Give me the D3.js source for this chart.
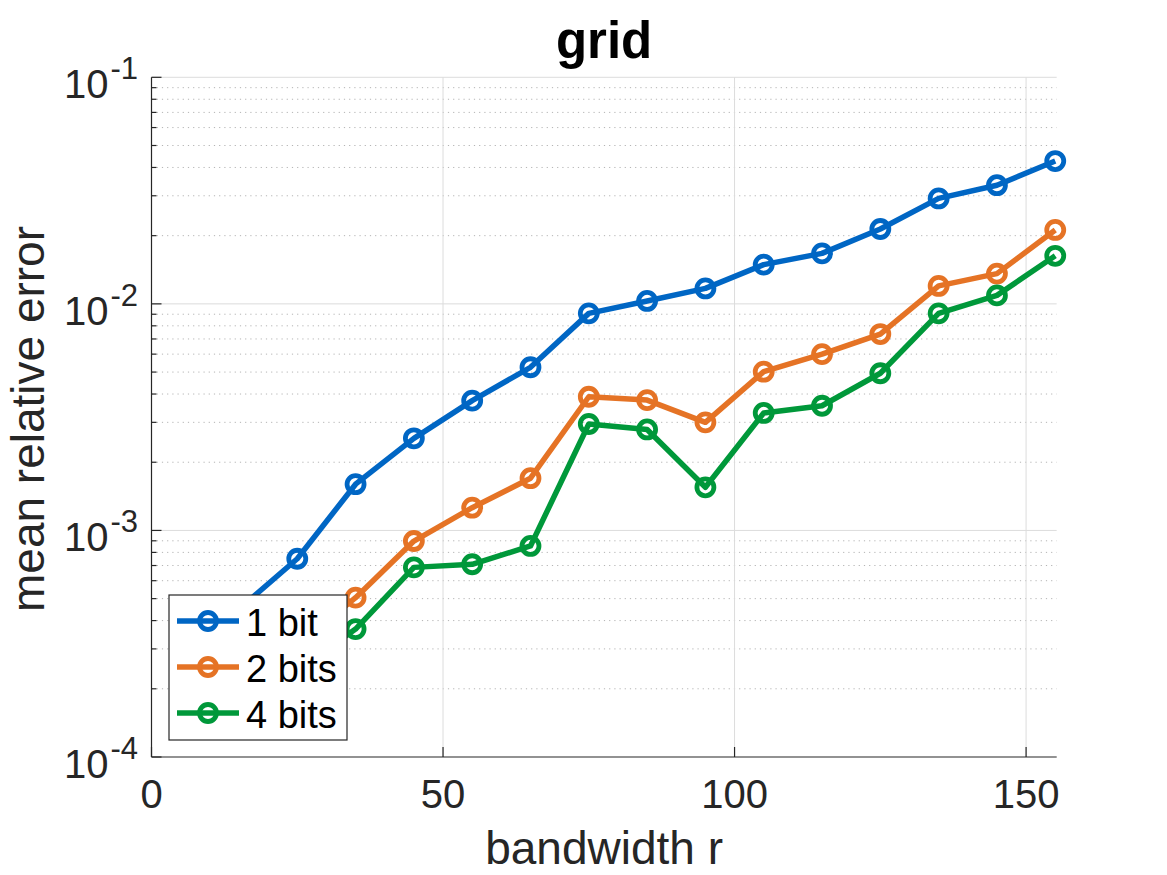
<!DOCTYPE html>
<html>
<head>
<meta charset="utf-8">
<script src="https://cdn.jsdelivr.net/npm/d3@7"></script>
<style>
  html, body { margin: 0; padding: 0; background: #fff; }
  svg { display: block; font-family: "Liberation Sans", Arial, Helvetica, sans-serif; }
</style>
</head>
<body>
<svg id="chart" width="1167" height="875"></svg>
<script>
// ---- data ----
const bandwidth = [15, 25, 35, 45, 55, 65, 75, 85, 95, 105, 115, 125, 135, 145, 155];
const err1bit  = [4.5e-4, 7.5e-4, 1.6e-3, 2.55e-3, 3.74e-3, 5.25e-3, 9.08e-3, 1.03e-2, 1.17e-2, 1.49e-2, 1.67e-2, 2.14e-2, 2.92e-2, 3.34e-2, 4.27e-2];
const err2bits = [2.0e-4, 3.1e-4, 5.05e-4, 8.98e-4, 1.26e-3, 1.70e-3, 3.89e-3, 3.76e-3, 3.0e-3, 5.02e-3, 6.0e-3, 7.36e-3, 1.20e-2, 1.36e-2, 2.12e-2];
const err4bits = [1.7e-4, 2.4e-4, 3.67e-4, 6.87e-4, 7.09e-4, 8.54e-4, 2.95e-3, 2.79e-3, 1.55e-3, 3.3e-3, 3.55e-3, 4.94e-3, 9.08e-3, 1.09e-2, 1.63e-2];
const seriesNames = ["1 bit", "2 bits", "4 bits"];
const xTicks = [0, 50, 100, 150];
const yTickExps = [-4, -3, -2, -1];
const titleText = "grid";
const xLabelText = "bandwidth r";
const yLabelText = "mean relative error";

// ---- layout ----
const colors = ["#0066C4", "#E57325", "#00983A"];
const L = 151.5, R = 1056.7, T = 77.3, B = 757;
const axisColor = "#262626";
const lineW = 5.5, markR = 8.5, markW = 4.8;

const svg = d3.select("#chart");
const x = d3.scaleLinear().domain([0, 155.25]).range([L, R]);
const y = d3.scaleLog().domain([1e-4, 1e-1]).range([B, T]);

// minor grid (horizontal, dotted)
const minorVals = [];
yTickExps.slice(0, 3).forEach(e => { for (let k = 2; k <= 9; k++) minorVals.push(k * Math.pow(10, e)); });
svg.append("g").selectAll("line").data(minorVals).join("line")
  .attr("x1", L).attr("x2", R).attr("y1", d => y(d)).attr("y2", d => y(d))
  .attr("stroke", "#b4b4b4").attr("stroke-width", 1).attr("stroke-dasharray", "1.2,4");

// major grid
const majorY = yTickExps.map(e => Math.pow(10, e));
svg.append("g").selectAll("line").data(majorY.slice(1)).join("line")
  .attr("x1", L).attr("x2", R).attr("y1", d => y(d)).attr("y2", d => y(d))
  .attr("stroke", "#dcdcdc").attr("stroke-width", 1);
svg.append("g").selectAll("line").data(xTicks.slice(1)).join("line")
  .attr("x1", d => x(d)).attr("x2", d => x(d)).attr("y1", T).attr("y2", B)
  .attr("stroke", "#dcdcdc").attr("stroke-width", 1);

// axes lines
svg.append("line").attr("x1", L).attr("x2", L).attr("y1", T).attr("y2", B)
  .attr("stroke", axisColor).attr("stroke-width", 1.2);
svg.append("line").attr("x1", L).attr("x2", R).attr("y1", B).attr("y2", B)
  .attr("stroke", axisColor).attr("stroke-width", 1.2);

// ticks (inward)
svg.append("g").selectAll("line").data(majorY).join("line")
  .attr("x1", L).attr("x2", L + 10).attr("y1", d => y(d)).attr("y2", d => y(d))
  .attr("stroke", axisColor).attr("stroke-width", 1.2);
svg.append("g").selectAll("line").data(minorVals).join("line")
  .attr("x1", L).attr("x2", L + 5).attr("y1", d => y(d)).attr("y2", d => y(d))
  .attr("stroke", axisColor).attr("stroke-width", 1.2);
svg.append("g").selectAll("line").data(xTicks).join("line")
  .attr("x1", d => x(d)).attr("x2", d => x(d)).attr("y1", B).attr("y2", B - 10)
  .attr("stroke", axisColor).attr("stroke-width", 1.2);

// x tick labels
svg.append("g").selectAll("text").data(xTicks).join("text")
  .attr("x", d => x(d)).attr("y", 808).attr("text-anchor", "middle")
  .attr("font-size", 40).attr("fill", axisColor).text(d => d);

// y tick labels 10^e
const yl = svg.append("g").selectAll("text").data(yTickExps).join("text")
  .attr("x", 138).attr("y", d => y(Math.pow(10, d)) + 21).attr("text-anchor", "end")
  .attr("fill", axisColor);
yl.append("tspan").attr("font-size", 40).text("10");
yl.append("tspan").attr("font-size", 31).attr("dx", 2).attr("dy", -19).text(d => "-" + Math.abs(d));

// series
const allSeries = [err1bit, err2bits, err4bits];
const lineGen = d3.line().x(d => x(d[0])).y(d => y(d[1]));
const plot = svg.append("g");
allSeries.forEach((vals, i) => {
  const pts = bandwidth.map((b, j) => [b, vals[j]]);
  const g = plot.append("g");
  g.append("path").datum(pts).attr("d", lineGen).attr("fill", "none")
    .attr("stroke", colors[i]).attr("stroke-width", lineW).attr("stroke-linejoin", "round");
  g.selectAll("circle").data(pts).join("circle")
    .attr("cx", d => x(d[0])).attr("cy", d => y(d[1])).attr("r", markR)
    .attr("fill", "none").attr("stroke", colors[i]).attr("stroke-width", markW);
});

// legend
const leg = svg.append("g");
leg.append("rect").attr("x", 169).attr("y", 595).attr("width", 178).attr("height", 145)
  .attr("fill", "#fff").attr("stroke", axisColor).attr("stroke-width", 1.2);
seriesNames.forEach((name, i) => {
  const cy = 621 + i * 46;
  leg.append("line").attr("x1", 177).attr("x2", 239).attr("y1", cy).attr("y2", cy)
    .attr("stroke", colors[i]).attr("stroke-width", lineW);
  leg.append("circle").attr("cx", 208).attr("cy", cy).attr("r", markR)
    .attr("fill", "none").attr("stroke", colors[i]).attr("stroke-width", markW);
  leg.append("text").attr("x", 246).attr("y", cy + 15).attr("font-size", 38)
    .attr("fill", "#000").text(name);
});

// title and labels
svg.append("text").attr("x", (L + R) / 2).attr("y", 58).attr("text-anchor", "middle")
  .attr("font-size", 51).attr("font-weight", "bold").attr("fill", "#000").text(titleText);
svg.append("text").attr("x", (L + R) / 2).attr("y", 864).attr("text-anchor", "middle")
  .attr("font-size", 46).attr("fill", axisColor).text(xLabelText);
svg.append("text").attr("transform", "translate(44,419) rotate(-90)").attr("text-anchor", "middle")
  .attr("font-size", 46).attr("fill", axisColor).text(yLabelText);
</script>
</body>
</html>
